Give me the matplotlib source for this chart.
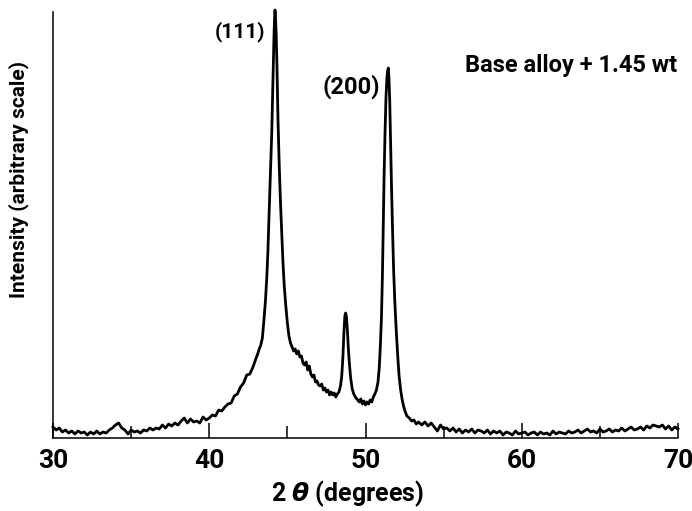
import numpy as np
import matplotlib
matplotlib.use("Agg")
import matplotlib.pyplot as plt

plt.rcParams['font.family'] = ['Roboto', 'DejaVu Sans']
plt.rcParams['font.weight'] = 'bold'

# background below the (111) peak, 30.0 - 43.0 deg in 0.2 deg steps
bg_left_x = np.round(np.arange(30.0, 43.01, 0.2), 2)
bg_left_y = [11, 8, 10, 6, 8, 5, 7, 4, 7, 5,
             6, 3, 6, 4, 7, 4, 6, 5, 8, 10,
             13, 15, 10, 8, 4, 8, 6, 7, 5, 8,
             7, 10, 8, 10, 9, 13, 10, 14, 12, 15,
             13, 17, 20, 15, 19, 16, 17, 15, 21, 18,
             20, 23, 22, 28, 27, 31, 34, 35, 42, 44,
             51, 55, 63, 64, 71, 80]

# (111) reflection
p111_x = [43.1, 43.2, 43.3, 43.4, 43.5, 43.6, 43.68, 43.75, 43.82, 43.9,
          44.0, 44.08, 44.14, 44.18, 44.21, 44.24, 44.28, 44.33, 44.4, 44.48,
          44.56, 44.64, 44.72, 44.8, 44.9, 45.0, 45.1, 45.2]
p111_y = [84, 89, 93, 100, 118, 138, 160, 185, 220, 258,
          305, 360, 400, 420, 428, 421, 405, 375, 318, 272,
          235, 205, 175, 152, 132, 115, 102, 95]

# shoulder between (111) and the small peak
shoulder_x = np.round(np.arange(45.3, 48.41, 0.1), 2)
shoulder_y = [91, 87, 89, 84, 87, 81, 82, 75, 73, 76,
              68, 72, 64, 61, 63, 56, 57, 53, 52, 54,
              48, 50, 46, 48, 43, 46, 43, 45, 41, 44,
              46, 52]

# small peak near 48.7 deg
small_x = [48.48, 48.55, 48.62, 48.68, 48.73, 48.78, 48.84, 48.9, 48.97, 49.05,
           49.15, 49.25, 49.35, 49.45]
small_y = [62, 80, 106, 122, 125, 121, 108, 90, 74, 60,
           49, 44, 41, 39]

valley_x = np.round(np.arange(49.5, 50.71, 0.1), 2)
valley_y = [38, 36, 39, 34, 37, 33, 36, 34, 38, 36, 41, 44, 48]

# (200) reflection
p200_x = [50.8, 50.88, 50.95, 51.02, 51.08, 51.13, 51.19, 51.25, 51.31, 51.37,
          51.42, 51.46, 51.5, 51.55, 51.6, 51.66, 51.72, 51.8, 51.88, 51.96,
          52.05, 52.15, 52.25, 52.35, 52.45, 52.55, 52.65, 52.8, 52.95, 53.1,
          53.25, 53.4]
p200_y = [56, 70, 92, 120, 160, 205, 262, 305, 340, 360,
          368, 370, 360, 338, 300, 255, 215, 168, 135, 110,
          85, 62, 48, 38, 31, 26, 22, 20, 17, 18,
          14, 16]

# background above the (200) peak, 53.6 - 70.0 deg
bg_right_x = np.round(np.arange(53.6, 70.01, 0.2), 2)
bg_right_y = [13, 16, 12, 15, 11, 7, 13, 9, 10, 7,
              10, 6, 9, 5, 8, 6, 9, 5, 8, 7,
              5, 8, 4, 7, 5, 7, 3, 6, 5, 3,
              7, 4, 5, 6, 3, 5, 6, 3, 6, 4,
              5, 3, 7, 4, 6, 5, 4, 7, 5, 6,
              8, 5, 7, 9, 6, 7, 5, 9, 6, 7,
              9, 6, 8, 7, 10, 7, 9, 11, 8, 9,
              11, 8, 12, 10, 13, 12, 11, 13, 9, 12,
              8, 11, 9]

two_theta = np.concatenate([bg_left_x, p111_x, shoulder_x, small_x,
                            valley_x, p200_x, bg_right_x])
intensity = np.concatenate([bg_left_y, p111_y, shoulder_y, small_y,
                            valley_y, p200_y, bg_right_y])

fig = plt.figure(figsize=(6.92, 5.11), dpi=100)
ax = fig.add_axes([53 / 692, 1 - 438 / 511, 625 / 692, 426 / 511])

ax.plot(two_theta, intensity, color='black', lw=2.0, clip_on=False)

ax.set_xlim(30, 70)
ax.set_ylim(0, 426)
ax.spines['top'].set_visible(False)
ax.spines['right'].set_visible(False)
ax.spines['left'].set_linewidth(1.1)
ax.spines['bottom'].set_linewidth(1.1)
ax.set_yticks([])
ax.set_xticks([30, 40, 50, 60, 70])
ax.set_xticks([35, 45, 55, 65], minor=True)
ax.tick_params(axis='x', which='major', direction='in', length=11, width=1.1,
               pad=8, labelsize=19)
ax.tick_params(axis='x', which='minor', direction='in', length=9, width=1.1)

ax.text(43.57, 406, '(111)', ha='right', va='center', fontsize=15)
ax.text(50.93, 351, '(200)', ha='right', va='center', fontsize=17)
ax.text(56.37, 373, 'Base alloy + 1.45 wt', ha='left', va='center', fontsize=17)

fig.text(348 / 692, 1 - 494 / 511, r'2 $\boldsymbol{\theta}$ (degrees)',
         ha='center', va='center', fontsize=18)
fig.text(19 / 692, 1 - 180 / 511, 'Intensity (arbitrary scale)',
         ha='center', va='center', rotation=90, fontsize=15)

fig.savefig('out.png', dpi=100)
